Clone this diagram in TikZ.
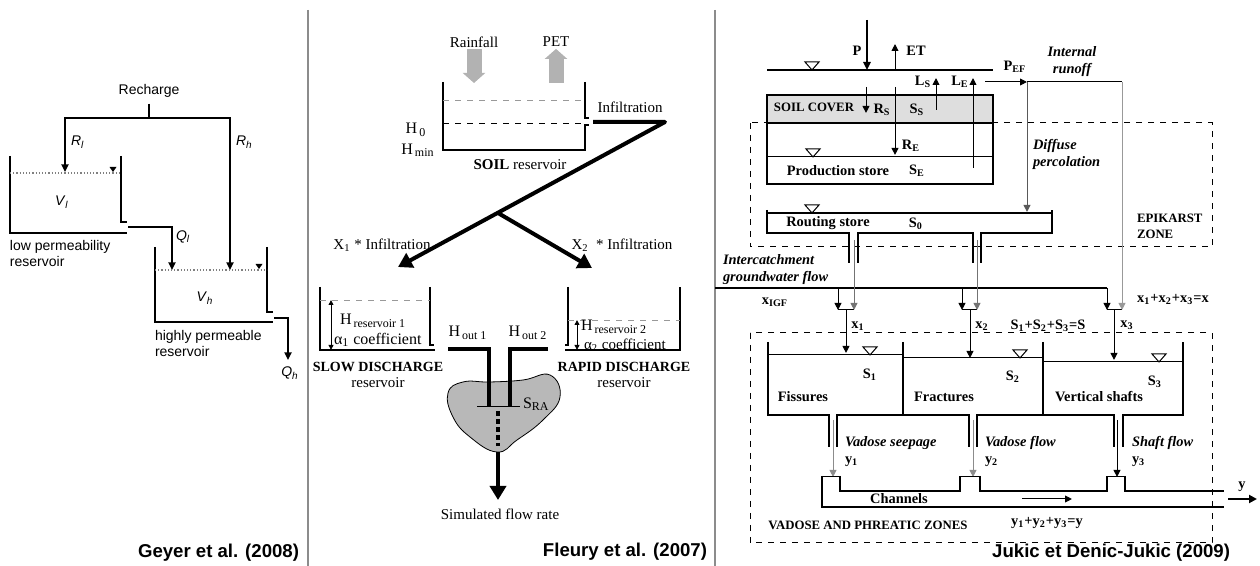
\documentclass[tikz,border=0pt]{standalone}
\usepackage{fontspec}
\setmainfont{Liberation Serif}
\newfontfamily\arialfont{Liberation Sans}
\usetikzlibrary{arrows.meta,positioning}

\begin{document}
\begin{tikzpicture}[x=0.5pt, y=-0.5pt,
	every node/.style={inner sep=0pt, outer sep=0pt},
	sepline/.style={draw=black!45, line width=0.7pt},
	lwall/.style={line width=0.7pt},
	mwall/.style={line width=1pt},
	jwall/.style={line width=1.3pt},
	flow/.style={line width=0.5pt, -{Triangle[length=3.5pt,width=3.4pt]}},
	lflow/.style={line width=0.7pt, -{Triangle[length=3.8pt,width=3.6pt]}},
	fatflow/.style={line width=2pt, -{Triangle[length=7pt,width=8pt]}},
	grayflow/.style={line width=7.5pt, draw=black!30, -{Triangle[length=5pt,width=11pt]}},
	dbl/.style={line width=0.4pt, {Triangle[length=2.5pt,width=2.4pt]}-{Triangle[length=2.5pt,width=2.4pt]}},
	geyer/.style={font=\arialfont\fontsize{7}{8}\selectfont},
	fleury/.style={font=\fontsize{7.5}{9}\selectfont},
	fleurybig/.style={font=\fontsize{8}{9.5}\selectfont},
	fleurybold/.style={font=\fontsize{7}{8}\selectfont\bfseries},
	jukic/.style={font=\fontsize{7.2}{9}\selectfont\bfseries},
	jukiccaps/.style={font=\fontsize{6.4}{8}\selectfont\bfseries},
	jukicit/.style={font=\fontsize{7.2}{8.5}\selectfont\bfseries\itshape},
	paper/.style={font=\arialfont\fontsize{9.3}{11}\selectfont\bfseries},
	wtri/.pic={\draw[line width=0.5pt] (-7,-8) -- (7,-8) -- (0,0) -- cycle;},
	ftri/.pic={\fill (-3.5,-5) -- (3.5,-5) -- (0,0) -- cycle;}
	]
	\useasboundingbox (0,0) rectangle (1260,566);
	\def\jrow{310}
	
	% panel separators
	\draw[sepline] (308,10) -- (308,566);
	\draw[sepline] (715,10) -- (715,566);
	
	% Geyer et al. (2008)
	\node[geyer] (recharge) at (149,91) {Recharge};
	\coordinate (split1) at (149,118);
	\coordinate (rlin) at (65,172);
	\coordinate (rhin) at (230,270);
	\draw[lwall] ([yshift=-3pt]recharge.south) -- (split1);
	\draw[lflow] (split1) -| (rlin);
	\draw[lflow] (split1) -| (rhin);
	\node[geyer, anchor=west] (rl) at (71,142) {\textit{R}\textsubscript{\textit{l}}};
	\node[geyer, anchor=west] (rh) at (236,142) {\textit{R}\textsubscript{\textit{h}}};
	
	\draw[lwall] (10,156) -- (10,233) -- (127,233);
	\draw[lwall] (121,156) -- (121,222) -- (127,222);
	\draw[densely dotted, black!50, line width=0.6pt] (10,173) -- (121,173);
	\pic at (113,172) {ftri};
	\node[geyer] (vl) at (62,202) {\textit{V}\textsubscript{\textit{l}}};
	\node[geyer, anchor=north west, align=left] (lowres) at (10,240) {low permeability\\reservoir};
	\coordinate (qlout) at (128,227);
	\coordinate (qlin) at (172,270);
	\draw[lflow] (qlout) -| (qlin);
	\node[geyer, anchor=west] (ql) at (176,237) {\textit{Q}\textsubscript{\textit{l}}};
	
	\draw[lwall] (155,247) -- (155,322) -- (273,322);
	\draw[lwall] (267,247) -- (267,312) -- (273,312);
	\draw[densely dotted, black!50, line width=0.6pt] (155,270) -- (267,270);
	\pic at (259,269) {ftri};
	\node[geyer] (vh) at (205,298) {\textit{V}\textsubscript{\textit{h}}};
	\node[geyer, anchor=north west, align=left] (highres) at (155,330) {highly permeable\\reservoir};
	\coordinate (qhout) at (274,318);
	\coordinate (qhend) at (288,360);
	\draw[lflow] (qhout) -| (qhend);
	\node[geyer, anchor=north] (qh) at (290,367) {\textit{Q}\textsubscript{\textit{h}}};
	\node[paper, anchor=east] (geyerref) at (299,553) {Geyer et al. (2008)};
	
	% Fleury et al. (2007)
	\node[fleury] (rainfall) at (474,42) {Rainfall};
	\node[fleury] (pet) at (556,42) {PET};
	\coordinate (rainin) at (474,83);
	\coordinate (petout) at (556,83);
	\draw[grayflow] ([yshift=-1pt]rainfall.south) -- (rainin);
	\draw[grayflow] (petout) -- ([yshift=-1pt]pet.south);
	
	\draw[mwall] (443,82) -- (443,150) -- (585,150) -- (585,125) -- (589,125);
	\draw[mwall] (585,82) -- (585,118) -- (589,118);
	\draw[dashed, black!40, line width=0.4pt] (443,100) -- (585,100);
	\draw[dashed, line width=0.5pt] (443,124) -- (585,124);
	\node[fleurybig] (h0) at (416,130) {H\textsubscript{\,0}};
	\node[fleurybig] (hmin) at (418,150) {H\textsubscript{\,min}};
	\node[fleury] (soil) at (520,165) {\textbf{SOIL} reservoir};
	\node[fleury] (infil) at (630,107) {Infiltration};
	
	\coordinate (infout) at (593,122);
	\coordinate (infturn) at (665,122);
	\coordinate (slowin) at (398,267);
	\coordinate (rapidin) at (592,268);
	\coordinate (split2) at (498,213);
	\draw[fatflow, line join=round] (infout) -- (infturn) -- (slowin);
	\draw[fatflow] (split2) -- (rapidin);
	\node[fleury] (x1inf) at (382,245) {X\textsubscript{1} * Infiltration};
	\node[fleury] (x2inf) at (622,245) {X\textsubscript{2}~ * Infiltration};
	
	\draw[mwall] (320,287) -- (320,350) -- (435,350);
	\draw[mwall] (430,287) -- (430,345) -- (434,345);
	\draw[dashed, black!40, line width=0.4pt] (320,300) -- (430,300);
	\draw[dbl] (331,300) -- (331,350);
	\node[fleurybig, anchor=west] (hres1) at (340,321) {H\textsubscript{\,reservoir 1}};
	\node[fleurybig, anchor=west] (alpha1) at (334,340) {α\textsubscript{1} coefficient};
	\node[fleurybold] (slowname) at (378,367) {SLOW DISCHARGE};
	\node[fleury, below=2.8pt of slowname] (slowres) {reservoir};
	
	\draw[mwall] (568,287) -- (568,345) -- (565,345);
	\draw[mwall] (565,350) -- (680,350) -- (680,287);
	\draw[dashed, black!40, line width=0.4pt] (568,320) -- (680,320);
	\draw[dbl] (577,320) -- (577,350);
	\node[fleurybig, anchor=west] (hres2) at (581,327) {H\textsubscript{\,reservoir 2}};
	\node[fleury, anchor=west] (alpha2) at (584,345) {α\textsubscript{2} coefficient};
	\node[fleurybold] (rapidname) at (624,367) {RAPID DISCHARGE};
	\node[fleury, below=2.8pt of rapidname] (rapidres) {reservoir};
	
	% outlets into the S_RA store
	\draw[fill=black!28, line width=0.4pt] plot[smooth cycle, tension=0.75] coordinates {(448,393) (463,382) (490,382) (523,380) (550,375) (560,397) (543,420) (517,440) (497,452) (470,437) (453,417)};
	\node[fleurybig] (hout1) at (468,333) {H\textsubscript{\,out 1}};
	\node[fleurybig] (hout2) at (528,333) {H\textsubscript{\,out 2}};
	\draw[line width=2pt] (448,349) -- (489,349) -- (489,407);
	\draw[line width=2pt] (548,349) -- (510,349) -- (510,407);
	\draw[line width=0.5pt] (477,407) -- (520,407);
	\node[fleurybig, anchor=west] (sra) at (523,404) {S\textsubscript{RA}};
	\draw[line width=2pt, dash pattern=on 2.5pt off 1.5pt] (498,411) -- (498,446);
	\coordinate (blobout) at (498,452);
	\coordinate (flowout) at (498,500);
	\draw[fatflow] (blobout) -- (flowout);
	\node[fleury] (simflow) at (500,514) {Simulated flow rate};
	\node[paper, anchor=east] (fleuryref) at (707,552) {Fleury et al. (2007)};
	
	% Jukic et Denic-Jukic (2009)
	\draw[dashed, line width=0.5pt] (750,123) rectangle (1212,247);
	\draw[dashed, line width=0.5pt] (750,333) rectangle (1212,543);
	
	\coordinate (ptop) at (867,20);
	\coordinate (pground) at (867,70);
	\coordinate (etbase) at (895,70);
	\coordinate (ettop) at (895,44);
	\draw[line width=1.1pt, -{Triangle[length=4pt,width=3.6pt]}] (ptop) -- (pground);
	\draw[flow] (etbase) -- (ettop);
	\node[jukic] (p) at (857,51) {P};
	\node[jukic] (et) at (916,51) {ET};
	\draw[line width=0.6pt] (767,70) -- (993,70);
	
	\draw[jwall, fill=black!13] (767,95) rectangle (993,123);
	\draw[jwall] (767,123) rectangle (993,184);
	\draw[line width=0.5pt] (767,157) -- (993,157);
	\node[jukiccaps] (soilcover) at (814,107) {SOIL COVER};
	\node[jukic] (ss) at (917,110) {S\textsubscript{S}};
	\node[jukic] (prodstore) at (838,171) {Production store};
	\node[jukic] (se) at (917,171) {S\textsubscript{E}};
	
	\foreach \fn/\fx/\fa/\fb in {rs/866/87/113, re/895/87/155, ls/936/110/78, le/973/168/78} {
		\coordinate (\fn a) at (\fx,\fa);
		\coordinate (\fn b) at (\fx,\fb);
		\draw[flow] (\fn a) -- (\fn b);
	}
	\node[jukic] (rslab) at (882,110) {R\textsubscript{S}};
	\node[jukic] (relab) at (911,146) {R\textsubscript{E}};
	\node[jukic] (lslab) at (923,82) {L\textsubscript{S}};
	\node[jukic] (lelab) at (960,82) {L\textsubscript{E}};
	
	\node[jukic] (pef) at (1015,67) {P\textsubscript{EF}};
	\coordinate (pefstart) at (985,82);
	\coordinate (pefend) at (1027,82);
	\coordinate (runoffend) at (1122,82);
	\coordinate (routein) at (1027,212);
	\draw[flow] (pefstart) -- (pefend);
	\draw[line width=0.5pt] (pefend) -- (runoffend);
	\draw[flow, draw=black!65] (pefend) -- (routein);
	\node[jukicit, align=center] (runoff) at (1072,62) {Internal\\runoff};
	\node[jukicit, align=left, anchor=west] (diffuse) at (1033,154) {Diffuse\\percolation};
	\node[jukiccaps, align=left, anchor=west] (epikarst) at (1137,226) {EPIKARST\\ZONE};
	
	% routing store
	\draw[line width=0.6pt] (767,213) -- (1052,213);
	\draw[jwall] (767,210) -- (767,233) -- (849,233) -- (849,263);
	\draw[jwall] (858,263) -- (858,233) -- (973,233) -- (973,263);
	\draw[jwall] (981,263) -- (981,233) -- (1052,233) -- (1052,210);
	\node[jukic] (routing) at (828,223) {Routing store};
	\node[jukic] (s0) at (916,224) {S\textsubscript{0}};
	
	\foreach \tx/\ty in {812/70, 813/157, 812/213, 870/355, 1020/358, 1159/362}
		\pic at (\tx,\ty) {wtri};
	
	% intercatchment flow and the three inflows
	\node[jukicit, align=left, anchor=west] (igf) at (723,270) {Intercatchment\\groundwater flow};
	\node[jukic] (xigf) at (775,302) {x\textsubscript{IGF}};
	\coordinate (igfstart) at (715,288);
	\coordinate (igfend) at (1107,288);
	\draw[line width=0.6pt] (igfstart) -- (igfend);
	\foreach \jn/\xa/\xb/\xm/\ye in {1/838/854/846/353, 2/962/977/970/358, 3/1107/1122/1114/360} {
		\coordinate (ja\jn) at (\xa,\jrow);
		\coordinate (jb\jn) at (\xb,\jrow);
		\coordinate (jm\jn) at (\xm,\jrow);
		\coordinate (xin\jn) at (\xm,\ye);
		\draw[flow] (ja\jn |- igfstart) -- (ja\jn);
		\draw[line width=0.5pt] (ja\jn) -- (jb\jn);
		\draw[flow] (jm\jn) -- (xin\jn);
	}
	\coordinate (pipe1) at (854,240);
	\coordinate (pipe2) at (977,240);
	\draw[flow, draw=black!55] (pipe1) -- (jb1);
	\draw[flow, draw=black!55] (pipe2) -- (jb2);
	\draw[flow, draw=black!40] (runoffend) -- (jb3);
	\node[jukic] (x1) at (858,326) {x\textsubscript{1}};
	\node[jukic] (x2) at (982,326) {x\textsubscript{2}};
	\node[jukic] (x3) at (1127,325) {x\textsubscript{3}};
	\node[jukic] (xsum) at (1173,299) {x\textsubscript{1}+x\textsubscript{2}+x\textsubscript{3}=x};
	\node[jukic] (ssum) at (1048,326) {S\textsubscript{1}+S\textsubscript{2}+S\textsubscript{3}=S};
	
	% fissures, fractures and vertical shafts
	\draw[line width=0.5pt] (768,355) -- (903,355);
	\draw[line width=0.5pt] (903,358) -- (1043,358);
	\draw[line width=0.5pt] (1043,362) -- (1183,362);
	\draw[mwall] (903,342) -- (903,415);
	\draw[mwall] (1043,342) -- (1043,415);
	\draw[jwall] (768,342) -- (768,415) -- (829,415) -- (829,447);
	\draw[jwall] (837,447) -- (837,415) -- (969,415) -- (969,447);
	\draw[jwall] (977,447) -- (977,415) -- (1114,415) -- (1114,447);
	\draw[jwall] (1123,447) -- (1123,415) -- (1183,415) -- (1183,342);
	\foreach \sn/\sx/\sy/\stxt in {s1/870/375/S\textsubscript{1}, s2/1013/377/S\textsubscript{2}, s3/1155/382/S\textsubscript{3}, fissures/803/397/Fissures, fractures/944/397/Fractures, shafts/1099/397/Vertical shafts}
		\node[jukic] (\sn) at (\sx,\sy) {\stxt};
	
	\foreach \vn/\vx/\vc in {1/833/black!45, 2/973/black!45, 3/1117/black} {
		\coordinate (vtop\vn) at (\vx,420);
		\coordinate (vbot\vn) at (\vx,477);
		\draw[flow, draw=\vc] (vtop\vn) -- (vbot\vn);
	}
	\node[jukicit, anchor=west] (seepage) at (845,443) {Vadose seepage};
	\node[jukicit, anchor=west] (vflow) at (985,443) {Vadose flow};
	\node[jukicit, anchor=west] (sflow) at (1132,443) {Shaft flow};
	\node[jukic, anchor=west] (y1) at (845,462) {y\textsubscript{1}};
	\node[jukic, anchor=west] (y2) at (985,462) {y\textsubscript{2}};
	\node[jukic, anchor=west] (y3) at (1132,462) {y\textsubscript{3}};
	
	% channels
	\draw[jwall] (822,476) -- (822,507) -- (1224,507);
	\draw[jwall] (840,476) -- (840,491) -- (960,491) -- (960,476);
	\draw[jwall] (980,476) -- (980,491) -- (1107,491) -- (1107,476);
	\draw[jwall] (1125,476) -- (1125,491) -- (1224,491);
	\foreach \ca/\cb in {822/840, 960/980, 1107/1125}
		\draw[line width=0.4pt] (\ca,476) -- (\cb,476);
	\node[jukic] (channels) at (899,499) {Channels};
	\coordinate (cha) at (1022,499);
	\coordinate (chb) at (1072,499);
	\draw[flow] (cha) -- (chb);
	\coordinate (yout1) at (1228,499);
	\coordinate (yout2) at (1257,499);
	\draw[line width=1.2pt, -{Triangle[length=4pt,width=4pt]}] (yout1) -- (yout2);
	\node[jukic] (ylab) at (1242,487) {y};
	\node[jukiccaps] (vadose) at (868,525) {VADOSE AND PHREATIC ZONES};
	\node[jukic] (ysum) at (1047,523) {y\textsubscript{1}+y\textsubscript{2}+y\textsubscript{3}=y};
	\node[paper, anchor=east] (jukicref) at (1230,553) {Jukic et Denic-Jukic (2009)};
\end{tikzpicture}
\end{document}
